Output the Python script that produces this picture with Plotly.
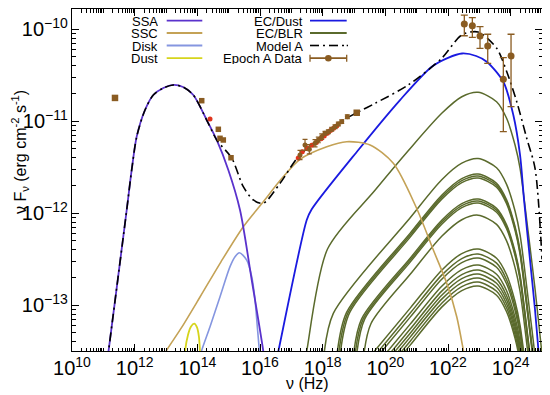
import numpy as np
import plotly.graph_objects as go

FONT = "Liberation Sans, Arial, sans-serif"

# ---------------- data (log10 nu [Hz], log10 nuFnu [erg cm^-2 s^-1]) ----------------
ssa_lognu = [11.05, 11.165, 11.746, 11.905, 12.065, 12.33, 12.595, 12.914, 13.233, 13.543,
             13.872, 14.299, 14.618, 14.989, 15.362, 15.736, 16.106, 16.2]
ssa_logf = [-13.8, -13.5, -11.964, -11.529, -11.167, -10.877, -10.714, -10.638, -10.605, -10.627,
            -10.714, -10.986, -11.203, -11.529, -11.964, -12.725, -13.5, -13.75]

ssc_lognu = [12.9, 13.0, 13.5, 14.085, 14.75, 15.467, 16.106, 16.7, 17.277, 18.13, 18.768, 19.512,
             20.255, 20.98, 21.532, 21.96, 22.279, 22.489, 22.56]
ssc_logf = [-13.57, -13.5, -13.24, -12.91, -12.53, -12.146, -11.874, -11.62, -11.413, -11.276, -11.222,
            -11.258, -11.457, -11.932, -12.399, -12.761, -13.124, -13.486, -13.62]

disk_lognu = [14.1, 14.14, 14.405, 14.724, 15.043, 15.203, 15.34, 15.576, 15.736, 15.841, 15.914, 15.978, 16.0]
disk_logf = [-13.55, -13.49, -13.233, -12.907, -12.58, -12.472, -12.428, -12.508, -12.689, -12.942, -13.233,
             -13.486, -13.6]

dust_lognu = [13.59, 13.607, 13.703, 13.799, 13.903, 13.99, 14.05, 14.085, 14.1]
dust_logf = [-13.6, -13.5, -13.32, -13.23, -13.2, -13.24, -13.34, -13.5, -13.6]

ecdust_lognu = [16.52, 16.585, 17.491, 17.65, 19.138, 20.469, 21.481, 22.0, 22.448, 22.9, 23.236,
                23.766, 24.085, 24.299, 24.427, 24.618, 24.778, 24.889, 25.0]
ecdust_logf = [-13.6, -13.5, -12.073, -11.957, -11.312, -10.769, -10.407, -10.31, -10.263, -10.29, -10.352,
               -10.57, -10.932, -11.366, -11.855, -12.508, -13.051, -13.5, -13.9]

model_lognu = [11.05, 11.165, 11.746, 11.905, 12.065, 12.33, 12.595, 12.914, 13.233, 13.543, 13.872,
               14.299, 14.618, 15.097, 15.467, 15.787, 16.106, 16.639, 17.223, 17.915, 18.554, 19.087,
               19.671, 20.734, 21.8, 22.438, 22.959, 23.555, 23.875, 24.194, 24.513, 24.778, 25.0]
model_logf = [-13.8, -13.5, -11.964, -11.529, -11.167, -10.877, -10.714, -10.638, -10.605, -10.627, -10.714,
              -10.986, -11.203, -11.399, -11.711, -11.855, -11.891, -11.674, -11.385, -11.18, -11.008, -10.907,
              -10.805, -10.605, -10.315, -10.062, -10.029, -10.207, -10.461, -10.787, -11.185, -11.511, -12.5]

# EC/BLR components (one list of (log nu, log nuFnu) points per curve)
blr_01 = [(17.42, -13.62), (17.49, -13.5), (18.155, -12.388), (19.67, -11.75), (20.73, -11.32), (21.8, -10.913),
          (22.44, -10.733), (22.96, -10.685), (23.55, -10.787), (23.87, -10.967), (24.14, -11.258),
          (24.3, -11.511), (24.55, -12.18), (24.78, -12.83), (24.99, -13.5), (25.05, -13.7)]
blr_02 = [(18.02, -13.6), (18.34, -13.088), (20.8, -12.045), (21.8, -11.635), (22.44, -11.455), (22.96, -11.405),
          (23.55, -11.505), (23.87, -11.685), (24.14, -11.975), (24.3, -12.235), (24.55, -12.905),
          (24.78, -13.555), (24.99, -14.205)]
blr_03 = [(18.435, -13.6), (18.76, -13.08), (20.8, -12.213), (21.8, -11.803), (22.44, -11.623), (22.96, -11.573),
          (23.55, -11.673), (23.87, -11.853), (24.14, -12.143), (24.3, -12.403), (24.55, -13.073), (24.78, -13.723)]
blr_04 = [(18.485, -13.6), (18.81, -13.08), (20.8, -12.234), (21.8, -11.824), (22.44, -11.644), (22.96, -11.594),
          (23.55, -11.694), (23.87, -11.874), (24.14, -12.164), (24.3, -12.424), (24.55, -13.094), (24.78, -13.744)]
blr_05 = [(18.535, -13.6), (18.86, -13.08), (20.8, -12.256), (21.8, -11.846), (22.44, -11.666), (22.96, -11.616),
          (23.55, -11.716), (23.87, -11.896), (24.14, -12.186), (24.3, -12.446), (24.55, -13.116), (24.78, -13.766)]
blr_06 = [(18.96, -13.6), (19.24, -13.15), (20.8, -12.485), (21.8, -12.075), (22.44, -11.895), (22.96, -11.845),
          (23.55, -11.945), (23.87, -12.125), (24.14, -12.415), (24.3, -12.675), (24.55, -13.345), (24.78, -13.995)]
blr_07 = [(19.01, -13.6), (19.29, -13.15), (20.8, -12.506), (21.8, -12.096), (22.44, -11.916), (22.96, -11.866),
          (23.55, -11.966), (23.87, -12.146), (24.14, -12.436), (24.3, -12.696), (24.55, -13.366), (24.78, -14.016)]
blr_08 = [(19.06, -13.6), (19.34, -13.15), (20.8, -12.528), (21.8, -12.118), (22.44, -11.938), (22.96, -11.888),
          (23.55, -11.988), (23.87, -12.168), (24.14, -12.458), (24.3, -12.718), (24.55, -13.388), (24.78, -14.038)]
blr_09 = [(19.29, -13.6), (19.54, -13.2), (20.8, -12.66), (21.8, -12.25), (22.44, -12.07), (22.96, -12.02),
          (23.55, -12.12), (23.87, -12.3), (24.14, -12.59), (24.3, -12.85), (24.55, -13.52), (24.78, -14.17)]
blr_10 = [(19.405, -13.6), (20.8, -13.028), (21.8, -12.618), (22.44, -12.438), (22.96, -12.388), (23.55, -12.488),
          (23.87, -12.668), (24.14, -12.958), (24.3, -13.218), (24.55, -13.888)]
blr_11 = [(19.537, -13.6), (20.8, -13.082), (21.8, -12.672), (22.44, -12.492), (22.96, -12.442), (23.55, -12.542),
          (23.87, -12.722), (24.14, -13.012), (24.3, -13.272), (24.55, -13.942)]
blr_12 = [(19.644, -13.6), (20.8, -13.126), (21.8, -12.716), (22.44, -12.536), (22.96, -12.486), (23.55, -12.586),
          (23.87, -12.766), (24.14, -13.056), (24.3, -13.316), (24.55, -13.986)]
blr_13 = [(19.829, -13.6), (20.8, -13.202), (21.8, -12.792), (22.44, -12.612), (22.96, -12.562), (23.55, -12.662),
          (23.87, -12.842), (24.14, -13.132), (24.3, -13.392), (24.55, -14.062)]
blr_14 = [(19.961, -13.6), (20.8, -13.256), (21.8, -12.846), (22.44, -12.666), (22.96, -12.616), (23.55, -12.716),
          (23.87, -12.896), (24.14, -13.186), (24.3, -13.446), (24.55, -14.116)]
blr_15 = [(20.068, -13.6), (20.8, -13.3), (21.8, -12.89), (22.44, -12.71), (22.96, -12.66), (23.55, -12.76),
          (23.87, -12.94), (24.14, -13.23), (24.3, -13.49), (24.55, -14.16)]
blr_16 = [(20.173, -13.6), (20.8, -13.343), (21.8, -12.933), (22.44, -12.753), (22.96, -12.703), (23.55, -12.803),
          (23.87, -12.983), (24.14, -13.273), (24.3, -13.533), (24.55, -14.203)]
blr_17 = [(20.28, -13.6), (20.8, -13.387), (21.8, -12.977), (22.44, -12.797), (22.96, -12.747), (23.55, -12.847),
          (23.87, -13.027), (24.14, -13.317), (24.3, -13.577), (24.55, -14.247)]
blr_18 = [(20.385, -13.6), (20.8, -13.43), (21.8, -13.02), (22.44, -12.84), (22.96, -12.79), (23.55, -12.89),
          (23.87, -13.07), (24.14, -13.36), (24.3, -13.62), (24.55, -14.29)]
blr_curves = [blr_01, blr_02, blr_03, blr_04, blr_05, blr_06, blr_07, blr_08, blr_09,
              blr_10, blr_11, blr_12, blr_13, blr_14, blr_15, blr_16, blr_17, blr_18]

# Epoch A data
radio_lognu = [11.372]
radio_logf = [-10.746]
opt_lognu = [14.14, 14.67, 14.724, 14.829, 15.075]
opt_logf = [-10.776, -11.087, -11.185, -11.203, -11.396]
red_lognu = [14.405, 17.22, 17.35, 17.5, 17.65, 17.8, 17.95, 18.05, 18.15, 18.25, 18.35, 18.45]
red_logf = [-10.975, -11.40, -11.33, -11.29, -11.26, -11.23, -11.19, -11.16, -11.13, -11.10, -11.075, -11.05]
xray_lognu = [17.277, 17.437, 17.574, 17.756, 17.861, 17.97, 18.075, 18.181, 18.289, 18.394, 18.5, 18.608, 18.787]
xray_logf = [-11.366, -11.257, -11.304, -11.239, -11.203, -11.167, -11.13, -11.113, -11.087, -11.059, -11.029,
             -11.004, -10.95]
xray_logerr = [0.05, 0.06, 0.05, 0.04, 0.03, 0.03, 0.02, 0.02, 0.02, 0.02, 0.02, 0.02, 0.02]
uv_lognu = [19.087]
uv_logf = [-10.907]
gam_lognu = [22.521, 22.777, 23.022, 23.268, 23.766, 24.012]
gam_logf = [-9.942, -9.961, -10.073, -10.182, -10.543, -10.29]
gam_loghi = [-9.845, -9.874, -9.972, -10.054, -10.308, -10.054]
gam_loglo = [-10.07, -10.087, -10.207, -10.37, -11.113, -10.841]

# ---------------- colours ----------------
C_SSA = "#5a32cc"
C_SSC = "#c4a256"
C_DISK = "#8596e0"
C_DUST = "#d6d41c"
C_ECD = "#1a1ae0"
C_BLR = "#5a6a2c"
C_DATA = "#8a5c22"
C_RED = "#e0341c"

def p10(a):
    return 10 ** np.asarray(a, dtype=float)

fig = go.Figure()

def curve(lx, ly, color, width=1.6, dash=None):
    fig.add_trace(go.Scatter(x=p10(lx), y=p10(ly), mode="lines", showlegend=False, hoverinfo="skip",
                             line=dict(color=color, width=width, shape="spline", smoothing=0.8,
                                       dash=dash)))

for c in blr_curves:
    curve([p[0] for p in c], [p[1] for p in c], C_BLR, 1.5)
curve(ecdust_lognu, ecdust_logf, C_ECD, 1.8)
curve(ssc_lognu, ssc_logf, C_SSC, 1.6)
curve(disk_lognu, disk_logf, C_DISK, 1.6)
curve(dust_lognu, dust_logf, C_DUST, 1.8)
curve(ssa_lognu, ssa_logf, C_SSA, 1.8)
curve(model_lognu, model_logf, "black", 1.6, dash="9px,4px,2px,4px")

# data
fig.add_trace(go.Scatter(x=p10(red_lognu), y=p10(red_logf), mode="markers", showlegend=False,
                         marker=dict(color=C_RED, size=5, symbol="circle")))
xy = p10(xray_logf)
fig.add_trace(go.Scatter(x=p10(xray_lognu), y=xy, mode="markers", showlegend=False,
                         marker=dict(color=C_DATA, size=5, symbol="circle"),
                         error_y=dict(type="data", symmetric=False,
                                      array=p10(np.add(xray_logf, xray_logerr)) - xy,
                                      arrayminus=xy - p10(np.subtract(xray_logf, xray_logerr)),
                                      color=C_DATA, thickness=1.2, width=2.5)))
fig.add_trace(go.Scatter(x=p10(opt_lognu), y=p10(opt_logf), mode="markers", showlegend=False,
                         marker=dict(color=C_DATA, size=5.5, symbol="square")))
fig.add_trace(go.Scatter(x=p10(radio_lognu + uv_lognu), y=p10(radio_logf + uv_logf), mode="markers",
                         showlegend=False, marker=dict(color=C_DATA, size=6.5, symbol="square")))
gy = p10(gam_logf)
fig.add_trace(go.Scatter(x=p10(gam_lognu), y=gy, mode="markers", showlegend=False,
                         marker=dict(color=C_DATA, size=7, symbol="circle"),
                         error_y=dict(type="data", symmetric=False, array=p10(gam_loghi) - gy,
                                      arrayminus=gy - p10(gam_loglo), color=C_DATA, thickness=1.3, width=3.5)))

# ---------------- layout ----------------
# The page body has an 8px margin, so the figure is offset by (8, 8) in the window.
OFF = 8
W, H = 542, 387
ML, MR, MT, MB = 64, 8, 1, 44
X0, X1 = OFF + ML, OFF + W - MR          # plot area in window pixels
Y0, Y1 = OFF + MT, OFF + H - MB

def px(x):
    return (x - X0) / (X1 - X0)

def py(y):
    return (Y1 - y) / (Y1 - Y0)

annotations = []
shapes = []
rows = [20.7, 33.0, 45.5, 58.2]
col1 = [("SSA", C_SSA, None), ("SSC", C_SSC, None), ("Disk", C_DISK, None), ("Dust", C_DUST, None)]
col2 = [("EC/Dust", C_ECD, None), ("EC/BLR", C_BLR, None), ("Model A", "black", "dashdot"),
        ("Epoch A Data", C_DATA, "data")]
for (items, tx, l0, l1) in [(col1, 158.5, 166.7, 202.3), (col2, 303.5, 310.0, 346.7)]:
    for (lab, col, kind), yy in zip(items, rows):
        annotations.append(dict(x=px(tx), y=py(yy), xref="paper", yref="paper", text=lab, showarrow=False,
                                xanchor="right", yanchor="middle", height=12, borderpad=0,
                                font=dict(size=13, family=FONT, color="black")))
        if kind == "dashdot":
            segs = [(l0, l0 + 9), (l0 + 13, l0 + 15), (l0 + 19, l0 + 28), (l0 + 32, l0 + 34), (l0 + 38, l1)]
            for a, b in segs:
                shapes.append(dict(type="line", xref="paper", yref="paper", x0=px(a), x1=px(b),
                                   y0=py(yy), y1=py(yy), line=dict(color=col, width=1.6)))
        else:
            shapes.append(dict(type="line", xref="paper", yref="paper", x0=px(l0), x1=px(l1),
                               y0=py(yy), y1=py(yy), line=dict(color=col, width=1.8)))
        if kind == "data":
            for xe in (l0, l1):
                shapes.append(dict(type="line", xref="paper", yref="paper", x0=px(xe), x1=px(xe),
                                   y0=py(yy - 3.5), y1=py(yy + 3.5), line=dict(color=col, width=1.3)))
            cx = (l0 + l1) / 2
            shapes.append(dict(type="circle", xref="paper", yref="paper", x0=px(cx - 3.3), x1=px(cx + 3.3),
                               y0=py(yy + 3.3), y1=py(yy - 3.3), fillcolor=col, line=dict(color=col, width=0)))

annotations.append(dict(x=px(20), y=py(152), xref="paper", yref="paper", showarrow=False, textangle=-90,
                        text="ν F<sub>ν</sub> (erg cm<sup>-2</sup> s<sup>-1</sup>)",
                        font=dict(size=16, family=FONT, color="black"), xanchor="center", yanchor="middle"))
annotations.append(dict(x=px(307), y=py(383), xref="paper", yref="paper", showarrow=False,
                        text="ν (Hz)", font=dict(size=16, family=FONT, color="black"),
                        xanchor="center", yanchor="middle"))

axis_common = dict(type="log", exponentformat="power", showexponent="all", ticks="inside", ticklen=7,
                   tickwidth=1, tickcolor="black", showline=True, linecolor="black", linewidth=1,
                   mirror="allticks", showgrid=False, zeroline=False,
                   tickfont=dict(size=16, family=FONT, color="black"),
                   minor=dict(ticks="inside", ticklen=3.5, tickcolor="black", tickwidth=1, dtick="D1",
                              showgrid=False))

# axis ranges: 10^10 at the left frame, 10^25 at the right; 92 px per decade in y
y_top = -10 + (29.3 - Y0) / 92.0
y_bot = -13 - (Y1 - 305.3) / 92.0
fig.update_xaxes(range=[10, 25], tickmode="linear", tick0=10, dtick=2, **axis_common)
fig.update_yaxes(range=[y_bot, y_top], tickmode="linear", tick0=-13, dtick=1, **axis_common)

fig.update_layout(width=W, height=H, margin=dict(l=ML, r=MR, t=MT, b=MB, pad=0),
                  plot_bgcolor="white", paper_bgcolor="white", showlegend=False,
                  annotations=annotations, shapes=shapes, font=dict(family=FONT))

fig.write_html("out.html")
